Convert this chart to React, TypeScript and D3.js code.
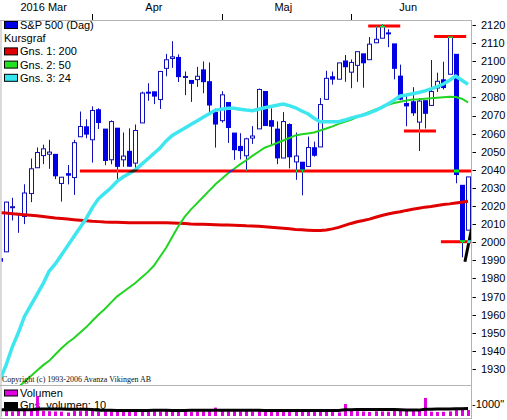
import React from 'react';
import * as d3 from 'd3';

// ---- data ----
const dates = [
  '2016-03-10','2016-03-11','2016-03-14','2016-03-15','2016-03-16','2016-03-17','2016-03-18','2016-03-21','2016-03-22','2016-03-23','2016-03-24','2016-03-28','2016-03-29','2016-03-30','2016-03-31',
  '2016-04-01','2016-04-04','2016-04-05','2016-04-06','2016-04-07','2016-04-08','2016-04-11','2016-04-12','2016-04-13','2016-04-14','2016-04-15','2016-04-18','2016-04-19','2016-04-20','2016-04-21','2016-04-22','2016-04-25','2016-04-26','2016-04-27','2016-04-28','2016-04-29',
  '2016-05-02','2016-05-03','2016-05-04','2016-05-05','2016-05-06','2016-05-09','2016-05-10','2016-05-11','2016-05-12','2016-05-13','2016-05-16','2016-05-17','2016-05-18','2016-05-19','2016-05-20','2016-05-23','2016-05-24','2016-05-25','2016-05-26','2016-05-27','2016-05-31',
  '2016-06-01','2016-06-02','2016-06-03','2016-06-06','2016-06-07','2016-06-08','2016-06-09','2016-06-10','2016-06-13','2016-06-14','2016-06-15','2016-06-16','2016-06-17','2016-06-20','2016-06-21','2016-06-22','2016-06-23','2016-06-24','2016-06-27','2016-06-28'
];
const monthLabels = ['2016 Mar', 'Apr', 'Maj', 'Jun'];

const open = [
  1990.97,1994.71,2019.27,2015.27,2014.24,2026.90,2041.16,2047.88,2048.64,2048.55,2032.48,2037.89,2035.75,2058.27,2063.77,
  2056.62,2073.19,2062.50,2045.56,2063.01,2045.54,2050.23,2043.72,2065.92,2082.89,2083.10,2078.83,2096.05,2101.52,2102.09,2091.49,2089.37,2089.84,2095.20,2088.70,2071.82,
  2067.17,2077.18,2060.30,2052.95,2047.77,2057.55,2062.63,2083.29,2067.17,2062.50,2046.53,2065.04,2044.38,2044.21,2041.88,2052.23,2052.65,2078.93,2091.44,2090.06,2100.13,
  2093.94,2097.71,2104.07,2100.83,2110.18,2112.71,2115.65,2109.57,2091.75,2076.65,2077.60,2066.36,2078.20,2075.58,2085.19,2089.75,2092.80,2103.81,2031.45,2006.67
];
const high = [
  2005.08,2022.37,2024.57,2015.94,2032.02,2046.24,2052.36,2053.91,2056.60,2048.55,2036.04,2042.67,2056.60,2072.21,2067.92,
  2075.07,2074.02,2062.50,2067.33,2063.01,2060.63,2062.93,2065.05,2083.18,2087.84,2083.22,2094.66,2104.05,2111.05,2103.78,2094.32,2089.37,2096.87,2099.89,2099.30,2073.85,
  2083.42,2077.18,2060.30,2060.23,2057.72,2064.15,2084.87,2083.29,2073.99,2066.79,2071.88,2065.69,2060.61,2044.21,2058.35,2055.58,2079.67,2094.73,2094.30,2099.06,2103.48,
  2100.97,2105.26,2104.07,2113.36,2119.22,2120.55,2117.64,2109.57,2098.12,2081.30,2085.65,2079.62,2078.20,2100.66,2093.66,2099.71,2113.32,2103.81,2031.45,2036.09
];
const low = [
  1969.25,1994.71,2012.05,2005.23,2010.04,2022.16,2041.16,2043.14,2040.57,2034.86,2022.49,2031.96,2026.17,2058.27,2057.46,
  2043.98,2062.57,2042.56,2043.09,2033.80,2041.69,2041.88,2039.74,2065.92,2078.13,2076.31,2073.65,2091.68,2096.32,2088.52,2081.20,2077.52,2085.80,2082.31,2071.62,2052.28,
  2066.11,2054.89,2045.55,2045.77,2039.45,2054.31,2062.63,2064.46,2053.13,2043.13,2046.53,2040.82,2034.49,2025.91,2041.88,2047.26,2052.65,2078.93,2087.08,2090.06,2088.66,
  2085.10,2088.59,2085.36,2100.83,2110.18,2112.71,2107.73,2089.96,2078.46,2064.10,2069.80,2050.37,2062.84,2075.58,2083.02,2084.36,2092.80,2032.57,1991.68,2006.67
];
const close = [
  1989.57,2022.19,2019.64,2015.93,2027.22,2040.59,2049.58,2051.60,2049.80,2036.71,2035.94,2037.05,2055.01,2063.95,2059.74,
  2072.78,2066.13,2045.17,2066.66,2041.91,2047.60,2041.99,2061.72,2082.42,2082.78,2080.73,2094.34,2100.80,2102.40,2091.48,2091.58,2087.79,2091.70,2088.70,2075.81,2065.30,
  2081.43,2063.37,2051.12,2050.63,2057.14,2058.69,2084.39,2064.46,2064.11,2046.61,2066.66,2047.21,2047.63,2040.04,2052.32,2048.04,2076.06,2090.54,2090.10,2099.06,2096.95,
  2099.33,2105.26,2099.13,2109.41,2112.13,2119.12,2115.48,2096.07,2079.06,2075.32,2071.50,2077.99,2071.22,2083.25,2088.90,2085.45,2113.32,2037.41,2000.54,2036.09
];

// moving averages
const ma200 = [
  2016.4,2016.1,2015.8,2015.5,2015.2,2014.9,2014.6,2014.2,2013.8,2013.4,2013.1,2012.8,2012.5,2012.2,2011.9,
  2011.6,2011.4,2011.2,2011.1,2011.0,2010.9,2010.8,2010.8,2010.8,2010.8,2010.8,2010.8,2010.8,2010.7,2010.5,2010.3,2010.1,2010.0,2009.9,2009.8,2009.7,
  2009.6,2009.5,2009.4,2009.3,2009.1,2009.0,2008.9,2008.6,2008.3,2008.0,2007.7,2007.4,2007.1,2006.9,2006.7,2006.5,2006.5,2006.8,2007.4,2008.2,2009.3,
  2010.4,2011.3,2012.0,2012.8,2013.8,2014.8,2015.6,2016.3,2016.9,2017.6,2018.2,2018.8,2019.4,2019.8,2020.3,2020.8,2021.2,2021.7,2022.1,2022.6
];
const ma50 = [
  1911,1914,1917,1920,1923,1926,1929,1932,1934.5,1938,1941.5,1944.5,1947,1950,1953,
  1956.5,1960,1963,1966.5,1970,1972.5,1975,1977.5,1980.5,1983.5,1987,1992,1997,2003,2009,2014,2018,2021.5,2025,2028.5,2032,
  2035,2038,2040.5,2043,2045.3,2047.7,2050,2052.2,2053.5,2054.8,2056.2,2057.6,2059,2059.6,2060.1,2060.6,2061.7,2062.8,2064,2065.4,2066.6,
  2067.7,2069.2,2070.6,2072,2073.3,2074.6,2076,2076.9,2077.6,2078.3,2078.8,2079,2079.3,2079.5,2079.8,2080.1,2080.4,2080.2,2079.3,2077.3
];
const ma24 = [
  1924,1932,1942,1950,1959,1965,1971,1977,1984,1988,1993,1998,2003,2008,2013,
  2019,2024,2027,2030,2033.5,2036,2038,2040,2043,2046,2049,2052,2056,2059,2061,2063,2065,2067,2069,2071,2073,
  2073.5,2074,2074,2073.5,2073,2072.7,2073.5,2074.3,2075,2075.7,2076.4,2075.5,2074.3,2072.5,2071,2068.5,2066.6,2066.5,2066.5,2066.6,2067.5,
  2068.6,2069.5,2070.3,2071.5,2072.8,2074.5,2076.4,2078.5,2080.8,2081.3,2082,2082.7,2083.6,2084.7,2086,2087.4,2089.5,2091.8,2089.5,2087.2
];

// drawn support / resistance levels
const levelValue = [2039.3, 2119.5, 2113.7, 2061.5, 2000.3];
const levelFrom = [13, 59.8, 70.5, 65.6, 71.6];
const levelTo = [76.6, 65, 75.7, 70.8, 76.6];
// drawn trend line
const trendIdx = [75.5, 76.6];
const trendVal = [1989.2, 2007.7];

const volume = [
  420,500,380,450,420,480,1650,430,400,380,360,300,420,400,450,
  420,330,400,420,450,340,380,420,480,400,420,380,460,500,420,400,350,390,430,460,700,
  420,460,440,400,430,380,420,430,440,420,380,420,430,400,440,330,430,420,330,300,1000,
  450,400,380,340,400,380,360,420,450,430,420,440,1500,360,330,350,380,650,600,500
];
const volumeMA = [
  520,525,530,530,525,520,560,575,580,580,575,570,565,560,555,
  545,480,470,470,465,465,460,460,460,465,470,470,470,465,465,465,470,470,470,475,480,
  485,485,480,480,475,470,470,465,465,460,460,455,455,450,450,450,455,455,450,450,520,
  530,540,545,550,550,545,540,535,530,500,495,490,560,570,575,580,585,600,610,615
];

const yTicks = [2120,2110,2100,2090,2080,2070,2060,2050,2040,2030,2020,2010,2000,1990,1980,1970,1960,1950,1940,1930];
const volTicks = [1000];

const legendItems = [
  { label: 'S&P 500 (Dag)', color: '#0000e6' },
  { label: 'Kursgraf', color: null },
  { label: 'Gns. 1: 200', color: '#e00000' },
  { label: 'Gns. 2: 50', color: '#22e022' },
  { label: 'Gns. 3: 24', color: '#33e6ee' },
];
const volLegend = [
  { label: 'Volumen', color: '#e000e0' },
  { label: 'Gns. volumen: 10', color: '#000000' },
];

export default function App() {
  const left = 1, right = 471.5, top = 20, mid = 385.5, bottom = 418.5;
  const x = d3.scaleLinear().domain([0, dates.length - 1]).range([-0.16, 468]);
  const y = d3.scaleLinear().domain([1930, 2120]).range([369, 25]);
  const yv = d3.scaleLinear().domain([0, 1000]).range([416, 404]);

  const idx = d3.range(dates.length);
  const lineOf = (arr: number[]) =>
    d3.line<number>().x((i) => x(i)).y((i) => y(arr[i]))(idx) as string;
  const volLine = d3.line<number>().x((i) => x(i)).y((i) => yv(volumeMA[i]))(idx) as string;

  // month boundaries
  const bounds: number[] = [];
  for (let i = 1; i < dates.length; i++) {
    if (dates[i].slice(5, 7) !== dates[i - 1].slice(5, 7)) bounds.push(i);
  }
  const edges = [left, ...bounds.map((b) => x(b)), right];

  const blue = '#0000e6';
  const blueDark = '#1010b8';
  const font = '"Liberation Sans", Arial, sans-serif';

  return (
    <svg width={507} height={420} style={{ position: 'fixed', left: 0, top: 0, fontFamily: font }}>
      <defs>
        <clipPath id="plot"><rect x={left + 0.5} y={top + 0.5} width={right - left - 1} height={mid - top - 1} /></clipPath>
        <clipPath id="vol"><rect x={left + 0.5} y={mid + 0.5} width={right - left - 1} height={bottom - mid - 1} /></clipPath>
      </defs>
      <rect x={0} y={0} width={507} height={420} fill="#fff" />

      {/* month labels and ticks */}
      {monthLabels.map((m, k) => (
        <text key={m} x={(edges[k] + edges[k + 1]) / 2 - 3} y={11} fontSize={11} textAnchor="middle" fill="#000">{m}</text>
      ))}
      {bounds.map((b) => (
        <line key={b} x1={Math.round(x(b)) + 0.5} x2={Math.round(x(b)) + 0.5} y1={14} y2={20} stroke="#000" strokeWidth={1} />
      ))}

      <g clipPath="url(#plot)">
        <rect x={0} y={0} width={507} height={420} fill="#fff" />
        {/* candles */}
        {idx.map((i) => {
          const cx = Math.round(x(i));
          const up = close[i] >= open[i];
          const yt = y(Math.max(open[i], close[i]));
          const yb = y(Math.min(open[i], close[i]));
          const h = Math.max(1, yb - yt);
          return (
            <g key={i}>
              <line x1={cx + 0.5} x2={cx + 0.5} y1={y(high[i])} y2={y(low[i])} stroke={blueDark} strokeWidth={1} />
              {up ? (
                <rect x={cx - 1.5} y={yt} width={4} height={h} fill="#fff" stroke={blueDark} strokeWidth={1} />
              ) : (
                <rect x={cx - 2} y={yt - 0.5} width={5} height={h + 1} fill={blue} />
              )}
            </g>
          );
        })}
        {/* moving averages */}
        <path d={lineOf(ma200)} fill="none" stroke="#e00000" strokeWidth={3} />
        <path d={lineOf(ma50)} fill="none" stroke="#22d422" strokeWidth={2} />
        <path d={lineOf(ma24)} fill="none" stroke="#3ee6f0" strokeWidth={3.5} />
        {/* trend line */}
        <line x1={x(trendIdx[0])} y1={y(trendVal[0])} x2={x(trendIdx[1])} y2={y(trendVal[1])} stroke="#000" strokeWidth={3} />
        {/* level lines drawn as inverted-xor red pen */}
        {levelValue.map((v, k) => (
          <line key={k} x1={x(levelFrom[k])} x2={x(levelTo[k])} y1={y(v)} y2={y(v)} stroke="#00ffff" strokeWidth={3} style={{ mixBlendMode: 'difference' }} />
        ))}
      </g>

      {/* legend */}
      {legendItems.map((it, k) => {
        const cy = 25 + k * 13.2;
        return (
          <g key={it.label}>
            {it.color && <rect x={4.5} y={cy - 3.5} width={13} height={7} fill={it.color} stroke="#000" strokeWidth={1} />}
            <text x={it.color ? 20 : 4} y={cy} dy="0.36em" fontSize={11} fill="#000">{it.label}</text>
          </g>
        );
      })}

      <text x={2} y={382} fontSize={8} fontFamily='"Liberation Serif", "Times New Roman", serif' fill="#111">Copyright (c) 1993-2006 Avanza Vikingen AB</text>

      {/* volume legend */}
      {volLegend.map((it, k) => {
        const cy = 393 + k * 12.5;
        return (
          <g key={it.label}>
            <rect x={4.5} y={cy - 3} width={13} height={6} fill={it.color} stroke="#000" strokeWidth={1} />
            <text x={20} y={cy} dy="0.36em" fontSize={11} fill="#000">{it.label}</text>
          </g>
        );
      })}
      <g clipPath="url(#vol)">
        {idx.map((i) => (
          <rect key={i} x={Math.round(x(i)) - 1} y={yv(volume[i])} width={3} height={yv(0) - yv(volume[i])} fill="#e000e0" />
        ))}
        <path d={volLine} fill="none" stroke="#000" strokeWidth={3} />
      </g>

      {/* frames */}
      <g stroke="#b4b4b4" strokeWidth={1} fill="none">
        <line x1={0} x2={right} y1={top + 0.5} y2={top + 0.5} />
        <line x1={right} x2={right} y1={top} y2={bottom + 0.5} />
        <line x1={left} x2={left} y1={top} y2={bottom + 0.5} />
        <line x1={0} x2={right} y1={mid} y2={mid} />
        <line x1={0} x2={right} y1={bottom} y2={bottom} />
      </g>

      {/* right axis */}
      {yTicks.map((t) => (
        <g key={t}>
          <line x1={472.5} x2={476} y1={Math.round(y(t)) + 0.5} y2={Math.round(y(t)) + 0.5} stroke="#000" />
          <text x={481} y={y(t)} dy="0.36em" fontSize={11} fill="#000">{t}</text>
        </g>
      ))}
      {volTicks.map((t) => (
        <text key={t} x={472} y={yv(t)} dy="0.36em" fontSize={11} fill="#000">-{t}"</text>
      ))}
    </svg>
  );
}
